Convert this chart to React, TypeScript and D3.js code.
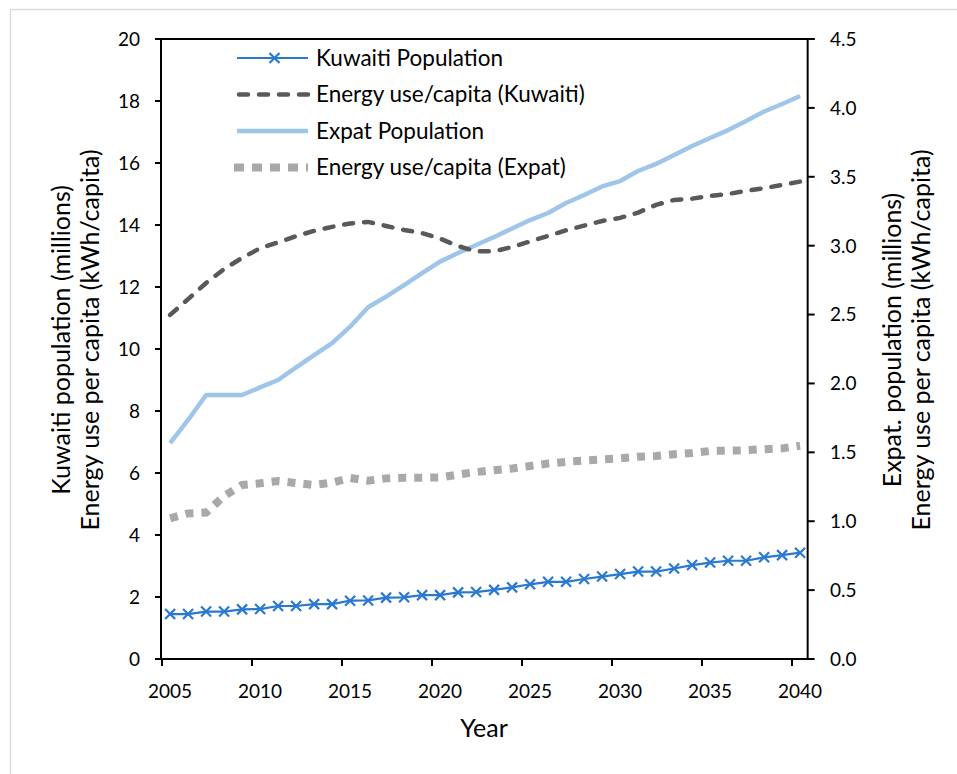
import React from "react";
import * as d3 from "d3";

const years = [2005,2006,2007,2008,2009,2010,2011,2012,2013,2014,2015,2016,2017,2018,2019,2020,2021,2022,2023,2024,2025,2026,2027,2028,2029,2030,2031,2032,2033,2034,2035,2036,2037,2038,2039,2040];

// left axis (millions / kWh per capita)
const kuwaitiPopulation = [1.45,1.45,1.53,1.53,1.60,1.61,1.71,1.71,1.77,1.77,1.88,1.89,1.98,1.99,2.06,2.06,2.15,2.16,2.23,2.31,2.41,2.49,2.49,2.58,2.66,2.74,2.82,2.82,2.92,3.03,3.11,3.17,3.17,3.28,3.35,3.43];
const kuwaitiEnergy = [11.10,11.61,12.13,12.58,12.94,13.25,13.44,13.64,13.81,13.94,14.05,14.10,13.97,13.84,13.74,13.56,13.32,13.15,13.15,13.29,13.47,13.65,13.83,13.98,14.13,14.23,14.40,14.65,14.81,14.85,14.94,15.00,15.10,15.19,15.29,15.40];
// right axis
const expatPopulation = [1.566,1.735,1.916,1.916,1.916,1.971,2.025,2.116,2.206,2.293,2.412,2.553,2.630,2.714,2.801,2.884,2.947,3.005,3.063,3.125,3.186,3.237,3.310,3.368,3.430,3.469,3.542,3.593,3.658,3.723,3.781,3.839,3.905,3.974,4.028,4.086];
const expatEnergy = [1.021,1.057,1.062,1.183,1.263,1.275,1.292,1.277,1.263,1.281,1.314,1.294,1.311,1.316,1.316,1.317,1.339,1.357,1.370,1.383,1.401,1.419,1.431,1.441,1.449,1.457,1.468,1.473,1.486,1.495,1.510,1.512,1.515,1.523,1.529,1.548];

const xTicks = [2005,2010,2015,2020,2025,2030,2035,2040];
const leftTicks = [0,2,4,6,8,10,12,14,16,18,20];
const rightTicks = [0,0.5,1,1.5,2,2.5,3,3.5,4,4.5];

const legendLabels = [
  "Kuwaiti Population",
  "Energy use/capita (Kuwaiti)",
  "Expat Population",
  "Energy use/capita (Expat)",
];

const C_KPOP = "#2a79d0";
const C_KEN = "#595959";
const C_EPOP = "#9fc5e8";
const C_EEN = "#a9a9a9";
const FONT = "Lato, 'Open Sans', sans-serif";

export default function App() {
  const x = d3.scaleLinear().domain([2005, 2040]).range([162, 792]);
  const yL = d3.scaleLinear().domain([0, 20]).range([659, 39]);
  const yR = d3.scaleLinear().domain([0, 4.5]).range([659, 39]);
  const px = (yr: number) => x(yr + 0.45);
  const xEnd = x(2040.87);

  const lineL = d3.line<number>().x((_, i) => px(years[i])).y((d) => yL(d));
  const lineR = d3.line<number>().x((_, i) => px(years[i])).y((d) => yR(d));

  const left = x(2005) - 1;
  const right = xEnd;
  const top = yL(20);
  const bottom = yL(0);

  const legendX0 = 237;
  const legendX1 = 308;
  const legendTextX = 316;
  const legendY = (i: number) => 58 + i * 36.5;

  const titleCy = 340;

  const xMark = (cx: number, cy: number, s: number) =>
    `M${cx - s},${cy - s}L${cx + s},${cy + s}M${cx - s},${cy + s}L${cx + s},${cy - s}`;

  return (
    <svg width={957} height={774} style={{ position: "absolute", left: 0, top: 0, background: "#fff" }} fontFamily={FONT}>
      <rect x={10.5} y={9.5} width={1000} height={1000} fill="#fff" stroke="#dcdcdc" strokeWidth={1.5} />

      {/* series */}
      <path d={lineR(expatEnergy) || ""} fill="none" stroke={C_EEN} strokeWidth={8} strokeDasharray="8 8" />
      <path d={lineR(expatPopulation) || ""} fill="none" stroke={C_EPOP} strokeWidth={4.5} strokeLinejoin="round" />
      <path d={lineL(kuwaitiEnergy) || ""} fill="none" stroke={C_KEN} strokeWidth={4.5} strokeDasharray="9 11" strokeLinecap="round" />
      <path d={lineL(kuwaitiPopulation) || ""} fill="none" stroke={C_KPOP} strokeWidth={2.2} />
      {kuwaitiPopulation.map((v, i) => (
        <path key={i} d={xMark(px(years[i]), yL(v), 5)} stroke={C_KPOP} strokeWidth={2.2} fill="none" />
      ))}

      {/* frame / axes */}
      <line x1={left} x2={right + 7} y1={top} y2={top} stroke="#000" strokeWidth={2} />
      <line x1={left} x2={left} y1={top} y2={bottom} stroke="#000" strokeWidth={2} />
      <line x1={right} x2={right} y1={top} y2={bottom} stroke="#000" strokeWidth={2} />
      <line x1={left} x2={right + 1} y1={bottom} y2={bottom} stroke="#000" strokeWidth={2} />

      {leftTicks.map((t) => (
        <g key={"l" + t}>
          <line x1={left - 6} x2={left} y1={yL(t)} y2={yL(t)} stroke="#000" strokeWidth={2} />
          <text x={140} y={yL(t)} dy="0.36em" textAnchor="end" fontSize={19} fill="#000">{t}</text>
        </g>
      ))}
      {rightTicks.map((t) => (
        <g key={"r" + t}>
          <line x1={right} x2={right + 7} y1={yR(t)} y2={yR(t)} stroke="#000" strokeWidth={2} />
          <text x={830} y={yR(t)} dy="0.36em" textAnchor="start" fontSize={19} fill="#000">{t.toFixed(1)}</text>
        </g>
      ))}
      {xTicks.map((t) => (
        <g key={"x" + t}>
          <line x1={x(t)} x2={x(t)} y1={bottom} y2={bottom + 7} stroke="#000" strokeWidth={2} />
          <text x={x(t) + 8} y={698} textAnchor="middle" fontSize={19} fill="#000">{t}</text>
        </g>
      ))}

      {/* axis titles */}
      <text x={484} y={737} textAnchor="middle" fontSize={25} fill="#000">Year</text>
      <text transform={`translate(70,${titleCy}) rotate(-90)`} textAnchor="middle" fontSize={25} fill="#000">Kuwaiti population (millions)</text>
      <text transform={`translate(99,${titleCy}) rotate(-90)`} textAnchor="middle" fontSize={25} fill="#000">Energy use per capita (kWh/capita)</text>
      <text transform={`translate(901,${titleCy}) rotate(-90)`} textAnchor="middle" fontSize={25} fill="#000">Expat. population (millions)</text>
      <text transform={`translate(930,${titleCy}) rotate(-90)`} textAnchor="middle" fontSize={25} fill="#000">Energy use per capita (kWh/capita)</text>

      {/* legend */}
      <line x1={legendX0} x2={legendX1} y1={legendY(0)} y2={legendY(0)} stroke={C_KPOP} strokeWidth={2.2} />
      <path d={xMark((legendX0 + legendX1) / 2 + 2, legendY(0), 5)} stroke={C_KPOP} strokeWidth={2.2} />
      <line x1={legendX0 + 2} x2={legendX1} y1={legendY(1)} y2={legendY(1)} stroke={C_KEN} strokeWidth={4.5} strokeDasharray="9 11" strokeLinecap="round" />
      <line x1={legendX0} x2={legendX1} y1={legendY(2)} y2={legendY(2)} stroke={C_EPOP} strokeWidth={4.5} />
      <line x1={legendX0 - 3} x2={legendX1} y1={legendY(3)} y2={legendY(3)} stroke={C_EEN} strokeWidth={8} strokeDasharray="10 8" />
      {legendLabels.map((l, i) => (
        <text key={l} x={legendTextX} y={legendY(i)} dy="0.35em" fontSize={22.5} fill="#000">{l}</text>
      ))}
    </svg>
  );
}
